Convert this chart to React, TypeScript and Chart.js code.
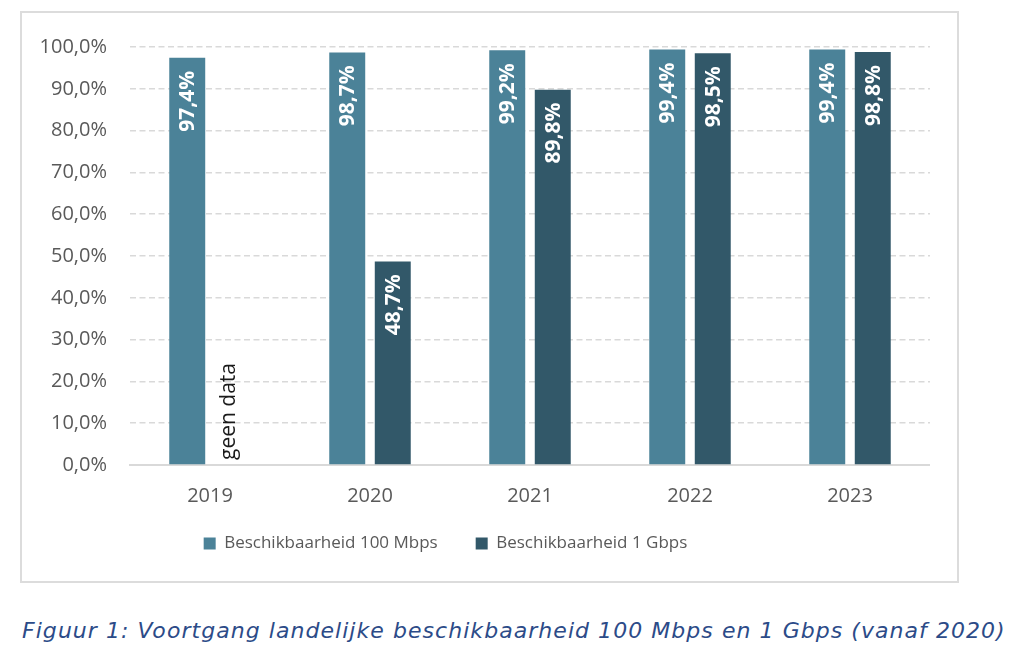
import React, { useEffect, useRef } from "react";
import { Chart, registerables } from "chart.js";

Chart.register(...registerables);

const categories = ["2019", "2020", "2021", "2022", "2023"];
const seriesNames = ["Beschikbaarheid 100 Mbps", "Beschikbaarheid 1 Gbps"];
const series100Mbps: (number | null)[] = [97.4, 98.7, 99.2, 99.4, 99.4];
const series1Gbps: (number | null)[] = [null, 48.7, 89.8, 98.5, 98.8];
const seriesColors = ["#4b8298", "#325869"];
const yMin = 0;
const yMax = 100;
const yStep = 10;
const noDataLabel = "geen data";
const captionText = "Figuur 1: Voortgang landelijke beschikbaarheid 100 Mbps en 1 Gbps (vanaf 2020)";

const fmtPct = (v: number) => v.toFixed(1).replace(".", ",") + "%";

const barLabelPlugin = {
  id: "barLabels",
  afterDatasetsDraw(chart: any) {
    const ctx = chart.ctx;
    const yScale = chart.scales.y;
    const xScale = chart.scales.x;
    chart.data.datasets.forEach((ds: any, di: number) => {
      const meta = chart.getDatasetMeta(di);
      meta.data.forEach((bar: any, i: number) => {
        const v = ds.data[i];
        ctx.save();
        if (v === null || v === undefined) {
          let offset = 0;
          for (let k = 0; k < ds.data.length; k++) {
            if (ds.data[k] !== null && ds.data[k] !== undefined) {
              offset = meta.data[k].x - xScale.getPixelForValue(k);
              break;
            }
          }
          const x = xScale.getPixelForValue(i) + offset - 4;
          const y = yScale.getPixelForValue(0) - 5;
          ctx.translate(x, y);
          ctx.rotate(-Math.PI / 2);
          ctx.font = "21px 'Open Sans'";
          ctx.fillStyle = "#1a1a1a";
          ctx.textAlign = "left";
          ctx.textBaseline = "middle";
          ctx.fillText(noDataLabel, 0, 0);
        } else {
          ctx.translate(bar.x, bar.y + 13);
          ctx.rotate(-Math.PI / 2);
          ctx.font = "bold 21px 'Open Sans'";
          ctx.fillStyle = "#ffffff";
          ctx.textAlign = "right";
          ctx.textBaseline = "middle";
          ctx.fillText(fmtPct(v), 0, 1);
        }
        ctx.restore();
      });
    });
  },
};

export default function App() {
  const ref = useRef<HTMLCanvasElement>(null);
  useEffect(() => {
    if (!ref.current) return;
    const chart = new Chart(ref.current, {
      type: "bar",
      data: {
        labels: categories,
        datasets: [
          {
            label: seriesNames[0],
            data: series100Mbps,
            backgroundColor: seriesColors[0],
            borderWidth: 0,
            barPercentage: 0.79,
            categoryPercentage: 0.569,
          },
          {
            label: seriesNames[1],
            data: series1Gbps,
            backgroundColor: seriesColors[1],
            borderWidth: 0,
            barPercentage: 0.79,
            categoryPercentage: 0.569,
          },
        ],
      },
      options: {
        responsive: false,
        animation: false,
        events: [],
        layout: { padding: { top: 33, left: 0, right: 0, bottom: 0 } },
        plugins: {
          tooltip: { enabled: false },
          legend: {
            position: "bottom",
            labels: {
              boxWidth: 12,
              boxHeight: 12,
              padding: 38,
              color: "#595959",
              font: { family: "'Open Sans'", size: 17 },
            },
          },
        },
        scales: {
          x: {
            grid: { display: false, drawTicks: false },
            border: { display: true, color: "#d9d9d9", width: 2 },
            ticks: {
              color: "#595959",
              mirror: true,
              padding: -43,
              font: { family: "'Open Sans'", size: 20 },
            },
            afterFit: (scale: any) => {
              scale.height = 32;
            },
          },
          y: {
            min: yMin,
            max: yMax,
            grid: {
              color: "#d9d9d9",
              lineWidth: 1.5,
              drawTicks: false,
            },
            border: { display: false, dash: [6, 3.5] },
            ticks: {
              stepSize: yStep,
              color: "#595959",
              padding: 23,
              font: { family: "'Open Sans'", size: 20 },
              callback: (v: any) => fmtPct(Number(v)),
            },
            afterFit: (scale: any) => {
              scale.width = 169;
            },
          },
        },
      },
      plugins: [barLabelPlugin],
    });
    return () => chart.destroy();
  }, []);

  return (
    <div style={{ position: "absolute", left: 0, top: 0, width: 1024, height: 654, background: "#fff", overflow: "hidden" }}>
      <div
        style={{
          position: "absolute",
          left: 20,
          top: 11,
          width: 939,
          height: 572,
          border: "2px solid #dcdcdc",
          boxSizing: "border-box",
        }}
      />
      <canvas ref={ref} width={969} height={550} style={{ position: "absolute", left: -39, top: 12 }} />
      <div
        style={{
          position: "absolute",
          left: 22,
          top: 616,
          fontFamily: "'DejaVu Sans', Verdana, sans-serif",
          fontStyle: "italic",
          fontSize: 22,
          letterSpacing: "1.05px",
          lineHeight: "30px",
          color: "#2c4b88",
          whiteSpace: "nowrap",
        }}
      >
        {captionText}
      </div>
    </div>
  );
}
